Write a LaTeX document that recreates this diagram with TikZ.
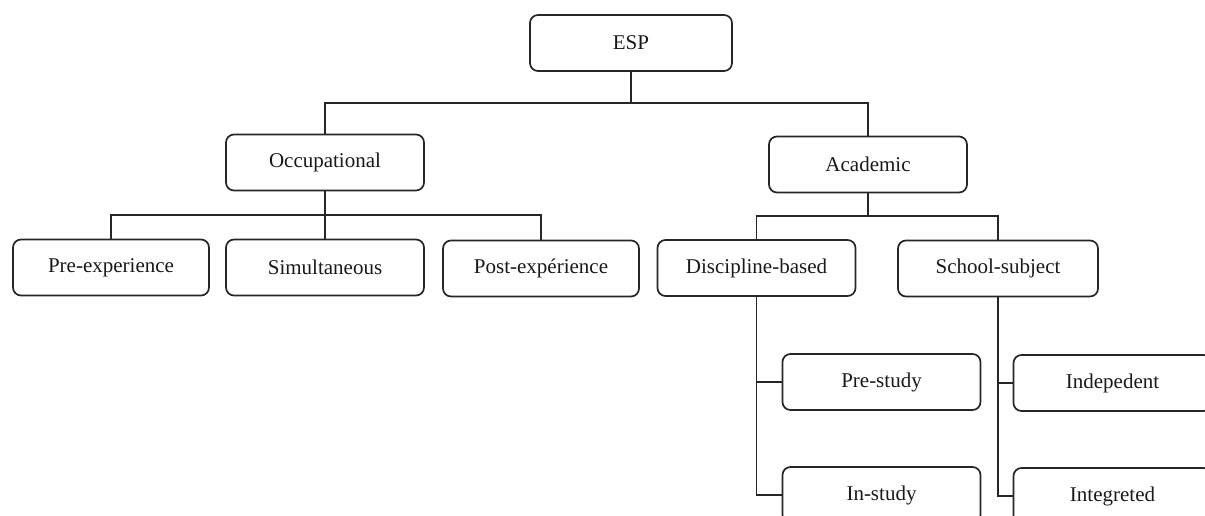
\documentclass[tikz,border=0pt]{standalone}
\usepackage{fontspec}
\setmainfont{Liberation Serif}
\begin{document}
\begin{tikzpicture}[x=1pt,y=-1pt,
  box/.style={draw=black!85, line width=1.7pt, rounded corners=8pt, minimum width=198pt, minimum height=56pt, inner sep=0pt, font=\fontsize{21}{25}\selectfont, text=black!90},
  conn/.style={draw=black!85, line width=1.7pt}]
\useasboundingbox (0,0) rectangle (1205,516);
\clip (0,0) rectangle (1205,516);
\fill[white] (0,0) rectangle (1205,516);
\node[box, minimum width=202pt] (esp) at (631,43) {ESP};
\node[box] (occ) at (325,162.5) {Occupational};
\node[box] (acad) at (868,164.5) {Academic};
\node[box, minimum width=196pt] (pre) at (111,267.5) {Pre-experience};
\node[box] (sim) at (325,267.5) {Simultaneous};
\node[box, minimum width=196pt] (post) at (541,268.5) {Post-expérience};
\node[box] (disc) at (756.5,268) {Discipline-based};
\node[box, minimum width=200pt] (school) at (998,268.5) {School-subject};
\node[box] (prestudy) at (881.5,382) {Pre-study};
\node[box] (instudy) at (881.5,495) {In-study};
\node[box] (indep) at (1112.5,383) {Indepedent};
\node[box] (integ) at (1112.5,496) {Integreted};
\coordinate (j1) at (631,103);
\coordinate (j2) at (325,215);
\coordinate (j3) at (868,216);
\draw[conn] (esp.south) -- (j1);
\draw[conn] (j1) -| (occ.north);
\draw[conn] (j1) -| (acad.north);
\draw[conn] (occ.south) -- (j2);
\draw[conn] (j2) -| (pre.north);
\draw[conn] (j2) -- (sim.north);
\draw[conn] (j2) -| (post.north);
\draw[conn] (acad.south) -- (j3);
\draw[conn] (j3) -| (disc.north);
\draw[conn] (j3) -| (school.north);
\draw[conn] (disc.south) |- (prestudy.west);
\draw[conn] (disc.south) |- (instudy.west);
\draw[conn] (school.south) |- (indep.west);
\draw[conn] (school.south) |- (integ.west);
\end{tikzpicture}
\end{document}
